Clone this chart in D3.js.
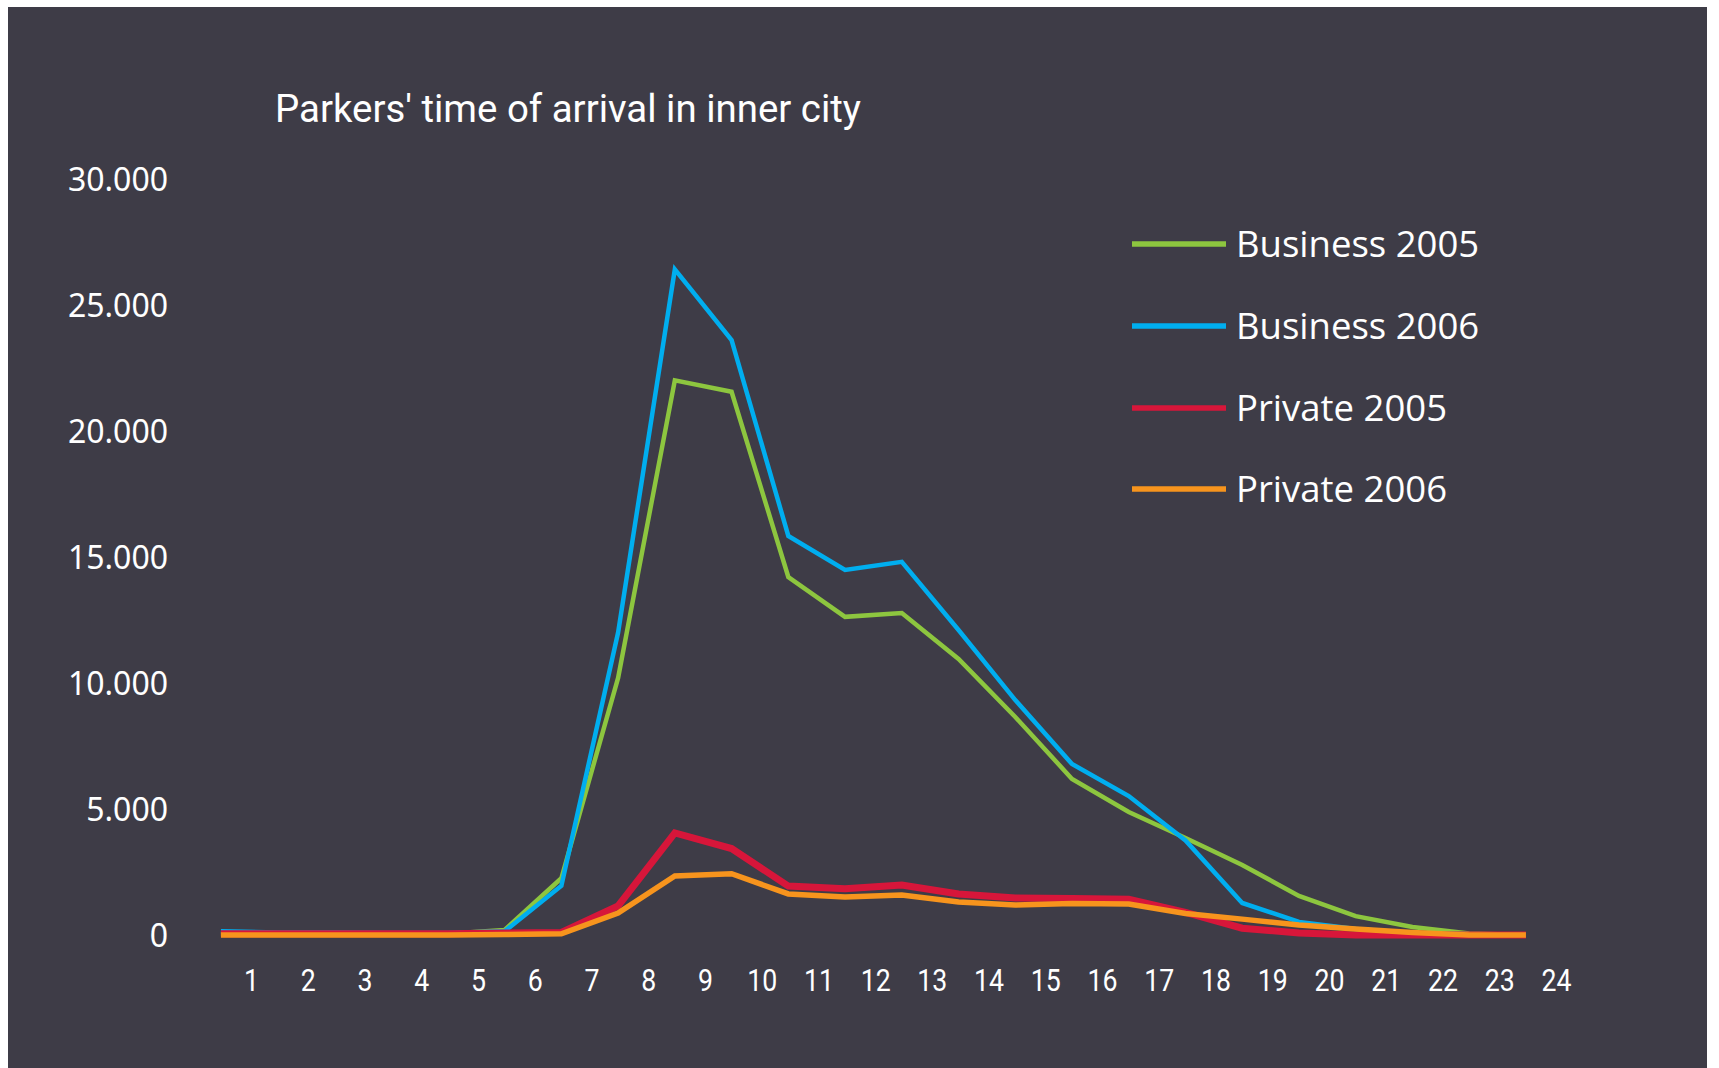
<!DOCTYPE html>
<html>
<head>
<meta charset="utf-8">
<script src="https://cdn.jsdelivr.net/npm/d3@7"></script>
<style>
  html, body { margin: 0; padding: 0; background: #ffffff; }
  svg { display: block; }
</style>
</head>
<body>
<svg id="chart" width="1719" height="1068"></svg>
<script>
// ---- data ----
const title = "Parkers' time of arrival in inner city";
const hours = d3.range(0, 24);              // arrival hour slots 0..23
const hourLabels = d3.range(1, 25);         // axis labels 1..24
const yTicks = [0, 5000, 10000, 15000, 20000, 25000, 30000];
const seriesNames = ["Business 2005", "Business 2006", "Private 2005", "Private 2006"];
const seriesColors = ["#8dc63f", "#00aeef", "#d7163a", "#f7941d"];
const business2005 = [50, 50, 50, 50, 50, 200, 2250, 10200, 22000, 21550, 14200, 12620, 12770, 10950, 8650, 6190, 4880, 3850, 2780, 1550, 750, 320, 60, 0];
const business2006 = [150, 100, 100, 80, 80, 150, 1950, 12000, 26400, 23600, 15830, 14480, 14800, 12100, 9320, 6780, 5510, 3750, 1270, 520, 240, 80, 30, 0];
const private2005  = [50, 50, 50, 50, 50, 80, 100, 1150, 4050, 3430, 1940, 1830, 1980, 1630, 1470, 1450, 1420, 900, 270, 80, 0, 0, 0, 0];
const private2006  = [0, 0, 0, 0, 0, 20, 50, 870, 2340, 2430, 1630, 1510, 1590, 1310, 1190, 1250, 1230, 850, 630, 400, 240, 100, 0, 0];

const seriesValues = [business2005, business2006, private2005, private2006];
const strokeWidths = [4.5, 4.5, 7, 5.5];

// ---- layout ----
const svg = d3.select("#chart");
const W = 1719, H = 1068;

svg.append("rect").attr("x", 8).attr("y", 7).attr("width", 1699).attr("height", H - 7)
  .attr("fill", "#3e3c47");

const x = d3.scaleLinear().domain([1, 24]).range([251, 1556]);
const pointOffset = 0.47;
const y = d3.scaleLinear().domain([0, 30000]).range([935, 178.7]);

// title
svg.append("text")
  .attr("x", 275).attr("y", 122)
  .attr("fill", "#ffffff")
  .attr("font-family", "'Roboto', 'Noto Sans', sans-serif")
  .attr("font-size", 38)
  .attr("textLength", 586)
  .attr("lengthAdjust", "spacingAndGlyphs")
  .text(title);

// y axis
const yAxis = d3.axisLeft(y).tickValues(yTicks).tickSize(0).tickPadding(0)
  .tickFormat(d => d === 0 ? "0" : d3.format(",")(d).replace(/,/g, "."));
const gy = svg.append("g").attr("transform", "translate(168,0)").call(yAxis);
gy.select(".domain").remove();
gy.selectAll("text")
  .attr("fill", "#ffffff")
  .attr("font-family", "'Noto Sans', sans-serif")
  .attr("font-size", 32)
  .attr("dy", "0.36em");

// x axis
const xAxis = d3.axisBottom(x).tickValues(hourLabels).tickSize(0).tickPadding(0)
  .tickFormat(d => String(d));
const gx = svg.append("g").attr("transform", "translate(0,979)").call(xAxis);
gx.select(".domain").remove();
gx.selectAll("text")
  .attr("fill", "#ffffff")
  .attr("font-family", "'Roboto', 'Noto Sans', sans-serif")
  .attr("font-size", 32)
  .attr("dy", "0.36em")
  .attr("textLength", d => String(d).length * 15)
  .attr("lengthAdjust", "spacingAndGlyphs");

// lines (drawn in order so Private 2006 sits on top)
const line = d3.line()
  .x((d, i) => x(hours[i] + pointOffset))
  .y(d => y(d));

seriesValues.forEach((vals, s) => {
  svg.append("path")
    .datum(vals)
    .attr("fill", "none")
    .attr("stroke", seriesColors[s])
    .attr("stroke-width", strokeWidths[s])
    .attr("stroke-linejoin", "miter")
    .attr("d", line);
});

// legend
const legend = svg.append("g");
const legendY = [244, 326, 408, 489];
seriesNames.forEach((name, s) => {
  const g = legend.append("g").attr("transform", `translate(0,${legendY[s]})`);
  g.append("line").attr("x1", 1132).attr("x2", 1226).attr("y1", 0).attr("y2", 0)
    .attr("stroke", seriesColors[s]).attr("stroke-width", 5.5);
  g.append("text").attr("x", 1236).attr("y", 13)
    .attr("fill", "#ffffff")
    .attr("font-family", "'Open Sans', 'Noto Sans', sans-serif")
    .attr("font-size", 36.5)
    .text(name);
});
</script>
</body>
</html>
